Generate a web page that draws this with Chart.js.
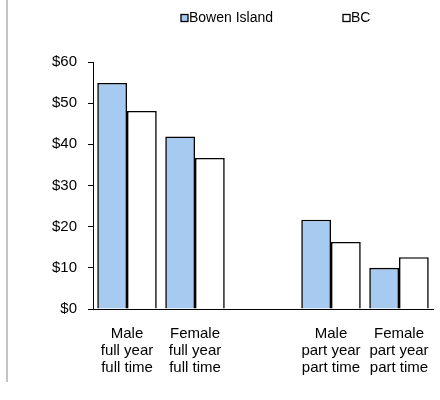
<!DOCTYPE html>
<html lang="en">
  <head>
    <meta charset="UTF-8" />
    <title>Hourly wages</title>
    <style>
      body {
        margin: 0;
        background-color: #fff;
      }
      .frame {
        position: relative;
        width: 440px;
        height: 400px;
      }
      .frame .edge {
        position: absolute;
        left: 6px;
        top: 0;
        width: 2px;
        height: 382px;
        background-color: #c4c4c4; /* thin grey page edge on the left */
      }
      canvas {
        position: absolute;
        left: 0;
        top: 0;
      }
    </style>
  </head>
  <body>
    <div class="frame">
      <div class="edge"></div>
      <canvas id="wageChart" width="440" height="400"></canvas>
    </div>

    <script src="https://cdn.jsdelivr.net/npm/chart.js"></script>
    <script>
      // categories (the empty one makes the gap between the two groups)
      const categories = [
        ["Male", "full year", "full time"],
        ["Female", "full year", "full time"],
        "",
        ["Male", "part year", "part time"],
        ["Female", "part year", "part time"],
      ];
      const seriesNames = ["Bowen Island", "BC"];
      const bowenIsland = [54.9, 41.9, null, 21.7, 10.0];
      const bcValues = [48.1, 36.7, null, 16.3, 12.6];
      const yTicks = [0, 10, 20, 30, 40, 50, 60];

      const fontFamily = "'Liberation Sans', Arial, sans-serif";

      // legend drawn by hand so the two items sit where they do in the picture
      const legendSpots = [
        { x: 181, y: 18 },
        { x: 343, y: 18 },
      ];
      const cornerLegend = {
        id: "cornerLegend",
        afterDraw(chart) {
          const ctx = chart.ctx;
          ctx.save();
          ctx.font = "14px " + fontFamily;
          ctx.textBaseline = "middle";
          ctx.textAlign = "left";
          chart.data.datasets.forEach((ds, i) => {
            const p = legendSpots[i];
            ctx.fillStyle = ds.backgroundColor;
            ctx.fillRect(p.x, p.y - 3.5, 7, 7);
            ctx.strokeStyle = "#000";
            ctx.lineWidth = 1.3;
            ctx.strokeRect(p.x, p.y - 3.5, 7, 7);
            ctx.fillStyle = "#000";
            ctx.fillText(ds.label, p.x + 8, p.y + 0.5);
          });
          ctx.restore();
        },
      };

      window.onload = function () {
        const ctx = document.getElementById("wageChart").getContext("2d");
        new Chart(ctx, {
          type: "bar",
          data: {
            labels: categories,
            datasets: [
              {
                label: seriesNames[0],
                data: bowenIsland,
                backgroundColor: "#a6caf0",
                borderColor: "#000",
                borderWidth: 1.6,
              },
              {
                label: seriesNames[1],
                data: bcValues,
                backgroundColor: "#ffffff",
                borderColor: "#000",
                borderWidth: 1.6,
              },
            ],
          },
          options: {
            responsive: false,
            animation: false,
            layout: {
              padding: { top: 62, right: 7, bottom: 0, left: 0 },
            },
            datasets: {
              bar: {
                barPercentage: 1.0,
                categoryPercentage: 0.875,
              },
            },
            plugins: {
              legend: { display: false },
              tooltip: { enabled: false },
            },
            scales: {
              x: {
                grid: { display: false },
                border: { display: true, color: "#000", width: 1 },
                ticks: {
                  color: "#000",
                  padding: 8,
                  maxRotation: 0,
                  autoSkip: false,
                  font: { family: fontFamily, size: 15, lineHeight: 1.15 },
                },
                afterFit(scale) {
                  scale.height = 91;
                },
              },
              y: {
                min: 0,
                max: 60,
                afterBuildTicks(scale) {
                  scale.ticks = yTicks.map((v) => ({ value: v }));
                },
                grid: {
                  drawOnChartArea: false,
                  drawTicks: true,
                  tickLength: 5,
                  color: "#000",
                },
                border: { display: true, color: "#000", width: 1 },
                ticks: {
                  color: "#000",
                  padding: 11,
                  font: { family: fontFamily, size: 15 },
                  callback: (v) => "$" + v,
                },
                afterFit(scale) {
                  scale.width = 93;
                },
              },
            },
          },
          plugins: [cornerLegend],
        });
      };
    </script>
  </body>
</html>
